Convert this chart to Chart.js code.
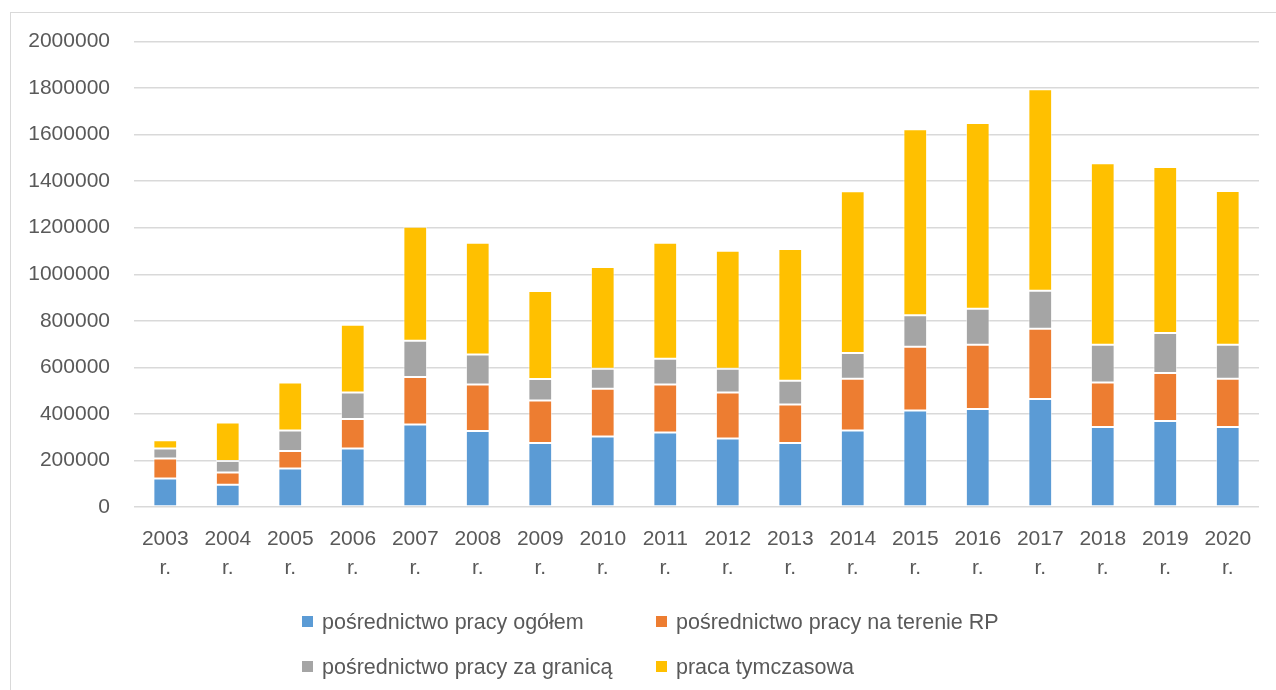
<!DOCTYPE html>
<html>
<head>
<meta charset="utf-8">
<script src="https://cdn.jsdelivr.net/npm/chart.js@4/dist/chart.umd.min.js"></script>
<style>
  html, body { margin: 0; padding: 0; background: #ffffff; overflow: hidden; }
  #frame { position: absolute; left: 10px; top: 12px; width: 1300px; height: 700px; border: 1px solid #d9d9d9; box-sizing: border-box; }
  #wrap { position: absolute; left: 0; top: 0; width: 1276px; height: 690px; }
  .leg { position: absolute; font-family: "Liberation Sans", Arial, sans-serif; font-size: 21.5px; color: #595959; white-space: nowrap; line-height: 24px; }
  .leg .box { position: absolute; left: 0; top: 6px; width: 11px; height: 11px; }
  .leg .txt { position: absolute; left: 20px; top: 0; }
</style>
</head>
<body>
<div id="frame"></div>
<div id="wrap"><canvas id="c" width="1276" height="690"></canvas></div>
<div id="legend"></div>
<script>
const categories = [["2003","r."],["2004","r."],["2005","r."],["2006","r."],["2007","r."],["2008","r."],["2009","r."],["2010","r."],["2011","r."],["2012","r."],["2013","r."],["2014","r."],["2015","r."],["2016","r."],["2017","r."],["2018","r."],["2019","r."],["2020","r."]];
const seriesNames = ["pośrednictwo pracy ogółem", "pośrednictwo pracy na terenie RP", "pośrednictwo pracy za granicą", "praca tymczasowa"];
const ogolem = [122000, 96000, 165000, 251000, 354000, 327000, 275000, 303000, 320000, 294000, 275000, 329000, 415000, 421000, 464000, 344000, 370000, 344000];
const terenRP = [86000, 52000, 76000, 127000, 205000, 199000, 183000, 205000, 206000, 198000, 165000, 222000, 273000, 276000, 302000, 191000, 206000, 207000];
const zaGranica = [43000, 50000, 88000, 114000, 155000, 129000, 92000, 86000, 111000, 102000, 102000, 111000, 136000, 155000, 163000, 162000, 172000, 146000];
const tymczasowa = [36000, 165000, 206000, 291000, 490000, 480000, 378000, 437000, 498000, 507000, 566000, 695000, 799000, 798000, 866000, 780000, 713000, 661000];
const yMax = 2000000;
const yStep = 200000;

const colors = ["#5B9BD5", "#ED7D31", "#A5A5A5", "#FFC000"];
const values = [ogolem, terenRP, zaGranica, tymczasowa];

const datasets = values.map((v, i) => ({
  label: seriesNames[i],
  data: v,
  backgroundColor: colors[i],
  borderColor: "rgba(255,255,255,0.55)",
  borderWidth: 1,
  borderSkipped: false,
  barPercentage: 0.38,
  categoryPercentage: 1.0
}));

const tickFont = { family: "'Liberation Sans', Arial, sans-serif", size: 21, lineHeight: 1.38 };

new Chart(document.getElementById("c"), {
  type: "bar",
  data: { labels: categories, datasets: datasets },
  options: {
    responsive: false,
    animation: false,
    layout: { padding: { top: 41.5, right: 17, left: 0, bottom: 0 } },
    plugins: { legend: { display: false }, tooltip: { enabled: false } },
    scales: {
      x: {
        stacked: true,
        grid: { display: false, drawTicks: false },
        border: { display: false },
        ticks: { color: "#595959", font: tickFont, padding: 18, maxRotation: 0, autoSkip: false },
        afterFit: (s) => { s.height = 183; }
      },
      y: {
        stacked: true,
        min: 0,
        max: yMax,
        grid: { color: "#d9d9d9", lineWidth: 1.5, drawTicks: false },
        border: { display: false },
        ticks: {
          stepSize: yStep, color: "#595959",
          font: { family: "'Liberation Sans', Arial, sans-serif", size: 21 },
          padding: 24,
          callback: (v) => String(v)
        },
        afterFit: (s) => { s.width = 134; }
      }
    }
  }
});

// Legend (2 x 2), built from the series names and colours
const legPos = [[302, 610], [656, 610], [302, 655], [656, 655]];
const legend = document.getElementById("legend");
seriesNames.forEach((name, i) => {
  const d = document.createElement("div");
  d.className = "leg";
  d.style.left = legPos[i][0] + "px";
  d.style.top = legPos[i][1] + "px";
  const b = document.createElement("span");
  b.className = "box";
  b.style.background = colors[i];
  const t = document.createElement("span");
  t.className = "txt";
  t.textContent = name;
  d.appendChild(b);
  d.appendChild(t);
  legend.appendChild(d);
});
</script>
</body>
</html>
